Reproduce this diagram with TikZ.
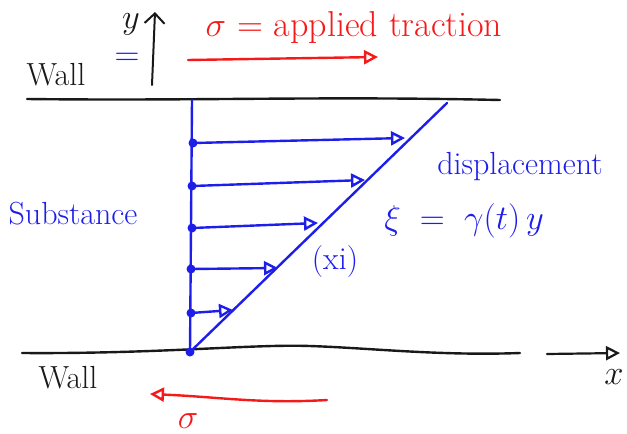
\documentclass[tikz,border=0pt]{standalone}
\definecolor{penblue}{RGB}{30, 30, 235}
\definecolor{penred}{RGB}{245, 25, 25}
\definecolor{penblack}{RGB}{25, 25, 25}
\usepackage{tikz}
\usetikzlibrary{arrows.meta, positioning, calc}

\begin{document}
\begin{tikzpicture}[x=0.5pt, y=-0.5pt, line cap=round,
    dot/.style={circle, fill=penblue, inner sep=0pt, minimum size=4.5pt},
    vel/.style={-{Triangle[open, length=7pt, width=7pt]}, penblue, line width=1.2pt},
    lab/.style={font=\fontsize{16}{18}\selectfont}]
  \useasboundingbox (0,0) rectangle (627,434);

  % Walls
  \draw[penblack, line width=1.2pt] (27,99) .. controls (200,101) and (320,96) .. (500,100);
  \draw[penblack, line width=1.2pt] (22,353) .. controls (160,354) and (250,344) .. (310,346) .. controls (370,348) and (440,356) .. (520,353);
  \node[lab, text=penblack] (walltop) at (56,75) {Wall};
  \node[lab, text=penblack] (wallbot) at (68,378) {Wall};

  % y axis
  \coordinate (yfoot) at (152,85);
  \coordinate (ytip) at (155,12);
  \draw[-{Straight Barb[length=5pt]}, penblack, line width=1pt] (yfoot) -- (ytip);
  \node[lab, text=penblack] (ylab) at (131,24) {$y$};
  \node[font=\LARGE, text=penblue] (yeq) at (127,59) {$=$};

  % x axis
  \coordinate (xfoot) at (547,354);
  \coordinate (xtip) at (620,353);
  \draw[-{Triangle[open, length=7pt, width=7pt]}, penblack, line width=1.1pt] (xfoot) -- (xtip);
  \node[lab, text=penblack] (xlab) at (614,377) {$x$};

  % Applied traction
  \node[font=\fontsize{18}{20}\selectfont, text=penred] (trac) at (354,28) {$\sigma$ = applied traction};
  \coordinate (tracL) at (188,60);
  \coordinate (tracR) at (378,57);
  \draw[-{Triangle[open, length=7pt, width=7pt]}, penred, line width=1.2pt] (tracL) -- (tracR);
  \coordinate (backR) at (327,400);
  \coordinate (backL) at (150,394);
  \draw[-{Triangle[open, length=7pt, width=7pt]}, penred, line width=1.2pt] (backR) .. controls (260,404) and (220,397) .. (backL);
  \node[lab, text=penred] (sigbot) at (188,421) {$\sigma$};

  % Substance and velocity profile
  \node[lab, text=penblue] (subst) at (73,214) {Substance};
  \coordinate (base) at (192,100);
  \node[dot] (d0) at (190,352) {};
  \node[dot] (d1) at (191,313) {};
  \node[dot] (d2) at (191,269) {};
  \node[dot] (d3) at (192,228) {};
  \node[dot] (d4) at (192,186) {};
  \node[dot] (d5) at (193,143) {};
  \draw[penblue, line width=1.2pt] (d0.center) -- (base);
  \draw[vel] (d5.center) -- (405,138);
  \draw[vel] (d4.center) -- (365,180);
  \draw[vel] (d3.center) -- (318,223);
  \draw[vel] (d2.center) -- (278,268);
  \draw[vel] (d1.center) -- (233,310);
  \coordinate (diagtop) at (447,103);
  \draw[penblue, line width=1.2pt] (d0.center) -- (diagtop);

  % Displacement
  \node[lab, text=penblue] (disp) at (520,167) {displacement};
  \node[lab, text=penblue] (xieq) at (464,221) {$\xi\ =\ \gamma(t)\,y$};
  \node[lab, text=penblue] (xiname) at (335,262) {(xi)};
\end{tikzpicture}
\end{document}
